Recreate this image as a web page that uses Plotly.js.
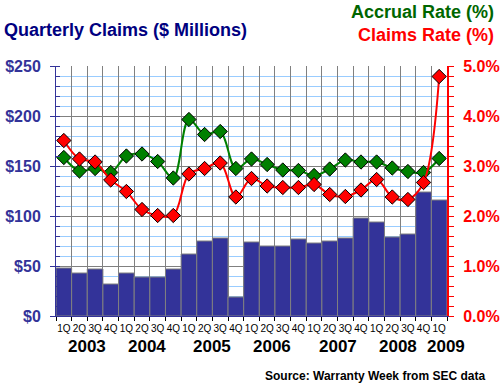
<!DOCTYPE html>
<html>
<head>
<meta charset="utf-8">
<script src="https://cdn.plot.ly/plotly-3.0.1.min.js"></script>
<style>html,body{margin:0;padding:0;background:#fff;}#chart{width:500px;height:385px;}</style>
</head>
<body>
<div id="chart"></div>
<script>
const quarterLabels = ['1Q','2Q','3Q','4Q','1Q','2Q','3Q','4Q','1Q','2Q','3Q','4Q','1Q','2Q','3Q','4Q','1Q','2Q','3Q','4Q','1Q','2Q','3Q','4Q','1Q'];
const quarterYears = ['2003','2003','2003','2003','2004','2004','2004','2004','2005','2005','2005','2005','2006','2006','2006','2006','2007','2007','2007','2007','2008','2008','2008','2008','2009'];
const claims = [48,43,47,32,43,39,39,47,62,75,78,19,74,70,70,77,73,75,78,98,94,79,82,124,116];
const accrualRate = [3.17,2.90,2.95,2.87,3.20,3.24,3.09,2.76,3.93,3.63,3.69,2.95,3.14,3.03,2.92,2.91,2.81,2.94,3.12,3.08,3.08,2.96,2.89,2.87,3.15];
const claimsRate = [3.51,3.14,3.08,2.72,2.49,2.13,2.01,2.01,2.84,2.95,3.06,2.38,2.75,2.60,2.57,2.57,2.63,2.43,2.39,2.52,2.73,2.38,2.33,2.67,4.79];
const yearLabels = ['2003','2004','2005','2006','2007','2008','2009'];
const yearShift = [0,-3,0,-3,0,-2,7];

const cats = quarterLabels.map((q,i)=> quarterYears[i] + ' ' + q);

const yearPos = yearLabels.map(y=>{
  const idx = quarterYears.map((v,i)=>v===y?i:-1).filter(i=>i>=0);
  return (idx[0] + idx[idx.length-1]) / 2;
});

const FONT = 'Arial, "Liberation Sans", sans-serif';

const traces = [
  {
    type:'bar', x:cats, y:claims, yaxis:'y',
    marker:{color:'#333399', line:{color:'#808080', width:1}},
    hoverinfo:'skip'
  },
  {
    type:'scatter', mode:'lines+markers', x:cats, y:accrualRate, yaxis:'y2',
    line:{color:'#008000', width:2, shape:'spline', smoothing:1},
    marker:{symbol:'diamond', size:11, color:'#008000', line:{color:'#000', width:1}}
  },
  {
    type:'scatter', mode:'lines+markers', x:cats, y:claimsRate, yaxis:'y2',
    line:{color:'#ff0000', width:2, shape:'spline', smoothing:1},
    marker:{symbol:'diamond', size:11, color:'#ff0000', line:{color:'#000', width:1}}
  }
];

const annotations = [
  {text:'Quarterly Claims ($ Millions)', xref:'paper', yref:'paper', x:-0.138, y:1.144, xanchor:'left', yanchor:'middle',
   showarrow:false, font:{family:FONT, size:18, color:'#000080', weight:'bold'}},
  {text:'Accrual Rate (%)', xref:'paper', yref:'paper', x:1.125, y:1.216, xanchor:'right', yanchor:'middle',
   showarrow:false, font:{family:FONT, size:18, color:'#006600', weight:'bold'}},
  {text:'Claims Rate (%)', xref:'paper', yref:'paper', x:1.125, y:1.124, xanchor:'right', yanchor:'middle',
   showarrow:false, font:{family:FONT, size:18, color:'#ff0000', weight:'bold'}},
  {text:'Source: Warranty Week from SEC data', xref:'paper', yref:'paper', x:1.103, y:-0.24, xanchor:'right', yanchor:'middle',
   showarrow:false, font:{family:FONT, size:12, color:'#000', weight:'bold'}}
];
yearLabels.forEach((y,i)=>{
  annotations.push({text:y, xref:'x', yref:'paper', x:yearPos[i], xshift:yearShift[i], y:-0.12, xanchor:'center', yanchor:'middle',
    showarrow:false, font:{family:FONT, size:17, color:'#000', weight:'bold'}});
});

const layout = {
  width:500, height:385,
  margin:{l:56, r:53, t:66, b:69},
  paper_bgcolor:'#fff', plot_bgcolor:'#fff',
  showlegend:false,
  bargap:0,
  font:{family:FONT},
  xaxis:{
    type:'category', tickson:'boundaries', range:[-0.5,24.5],
    tickvals:cats, ticktext:quarterLabels, tickangle:0,
    showgrid:true, gridcolor:'#808080', gridwidth:1,
    ticks:'outside', ticklen:4, tickcolor:'#000',
    showline:true, linecolor:'#333399', linewidth:1,
    ticklabelstandoff:3,
    tickfont:{family:FONT, size:10, color:'#000'},
    fixedrange:true
  },
  yaxis:{
    range:[0,250], dtick:50, tickprefix:'$',
    showgrid:true, gridcolor:'#808080', gridwidth:1,
    ticks:'outside', ticklen:5, tickcolor:'#333399',
    showline:true, linecolor:'#333399', linewidth:1,
    ticklabelstandoff:6,
    tickfont:{family:FONT, size:16, color:'#333399', weight:'bold'},
    minor:{dtick:10, showgrid:true, gridcolor:'#99ccff', gridwidth:1, ticks:'inside', ticklen:4, tickcolor:'#333399'},
    zeroline:false, fixedrange:true
  },
  yaxis2:{
    overlaying:'y', side:'right', range:[0,5], dtick:1, tickformat:'.1f', ticksuffix:'%',
    showgrid:false,
    ticks:'outside', ticklen:5, tickcolor:'#ff0000',
    showline:true, linecolor:'#ff0000', linewidth:2,
    ticklabelstandoff:6,
    tickfont:{family:FONT, size:16, color:'#ff0000', weight:'bold'},
    minor:{dtick:0.2, ticks:'outside', ticklen:5, tickcolor:'#ff0000', showgrid:false},
    zeroline:false, fixedrange:true
  },
  annotations:annotations
};

Plotly.newPlot('chart', traces, layout, {displayModeBar:false, staticPlot:true});
</script>
</body>
</html>
